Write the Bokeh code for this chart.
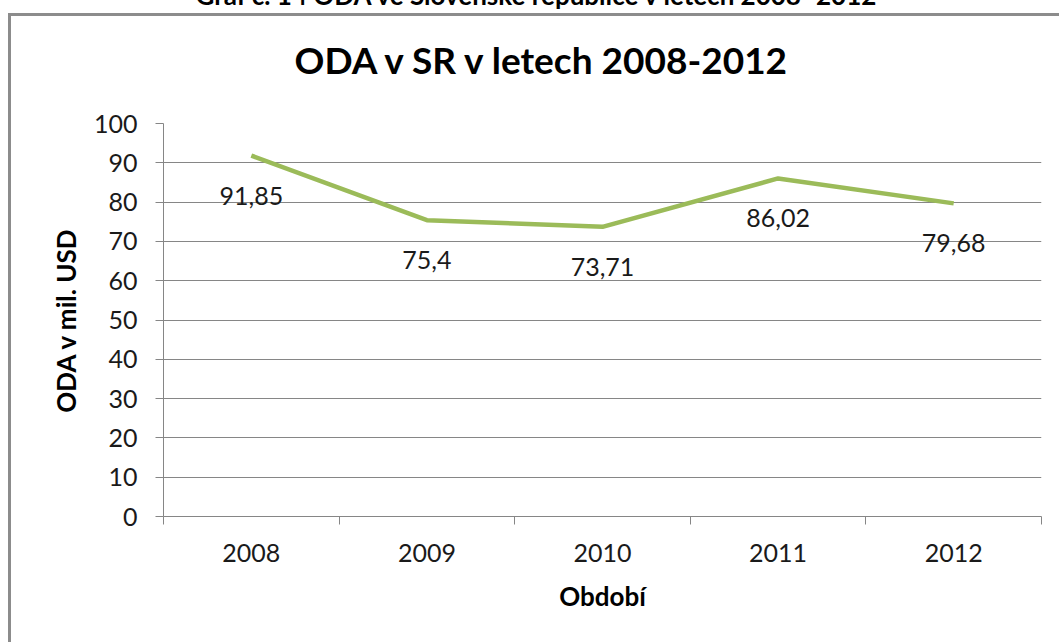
from bokeh.plotting import figure
from bokeh.models import Range1d, FixedTicker, Title, ColumnDataSource
from bokeh.core.properties import value
from bokeh.embed import file_html
from bokeh.resources import INLINE

years = ["2008", "2009", "2010", "2011", "2012"]
oda = [91.85, 75.4, 73.71, 86.02, 79.68]
oda_labels = ["91,85", "75,4", "73,71", "86,02", "79,68"]
y_ticks = [0, 10, 20, 30, 40, 50, 60, 70, 80, 90, 100]

header = "Graf č. 14 ODA ve Slovenské republice v letech 2008–2012"
chart_title = "ODA v SR v letech 2008-2012"
x_title = "Období"
y_title = "ODA v mil. USD"

FONT = "Lato"
GRID = "#868686"
FRAME = "#8c8c8c"
SHIFT = 60  # part of the canvas hidden above the page top

xs = [i + 0.5 for i in range(len(years))]
src = ColumnDataSource(dict(x=xs, y=oda, lab=oda_labels))

p = figure(width=1059, height=642 + SHIFT, output_backend="svg", toolbar_location=None,
           title=None,
           x_range=Range1d(0, len(years)), y_range=Range1d(0, 100),
           min_border_left=163, min_border_right=18, min_border_top=123 + SHIFT,
           min_border_bottom=126)
top = 13 + SHIFT
p.styles = {
    "margin-top": f"-{SHIFT}px",
    "background-color": "white",
    "background-image": f"linear-gradient({FRAME},{FRAME}), linear-gradient({FRAME},{FRAME})",
    "background-size": "3px 100%, 100% 3px",
    "background-position": f"8px {top}px, 8px {top}px",
    "background-repeat": "no-repeat",
}
p.outline_line_color = None
p.background_fill_color = "white"
p.border_fill_color = None

# axes
p.xaxis.ticker = FixedTicker(ticks=xs, minor_ticks=list(range(len(years) + 1)))
p.xaxis.major_label_overrides = {x: y for x, y in zip(xs, years)}
p.xaxis.major_tick_out = 0
p.xaxis.major_tick_in = 0
p.xaxis.minor_tick_out = 8
p.xaxis.minor_tick_in = 0
p.xaxis.minor_tick_line_color = GRID
p.xaxis.axis_line_color = GRID
p.xaxis.major_label_standoff = 19
p.xaxis.axis_label = x_title
p.xaxis.axis_label_standoff = 15

p.yaxis.ticker = FixedTicker(ticks=y_ticks)
p.yaxis.major_tick_out = 8
p.yaxis.major_tick_in = 0
p.yaxis.major_tick_line_color = GRID
p.yaxis.minor_tick_line_color = None
p.yaxis.axis_line_color = GRID
p.yaxis.major_label_standoff = 18
p.yaxis.axis_label = y_title
p.yaxis.axis_label_standoff = 9

for ax in (p.xaxis[0], p.yaxis[0]):
    ax.major_label_text_font = FONT
    ax.major_label_text_font_size = "25px"
    ax.major_label_text_color = "#1a1a1a"
    ax.axis_label_text_font = FONT
    ax.axis_label_text_font_size = "26px"
    ax.axis_label_text_font_style = "bold"
    ax.axis_label_text_color = "#000000"

p.xgrid.grid_line_color = None
p.ygrid.grid_line_color = GRID
p.ygrid.grid_line_width = 1

# data line and value labels
p.line("x", "y", source=src, line_color="#9BBB59", line_width=4.5, line_join="round")
p.text("x", "y", text="lab", source=src, text_font=value(FONT), text_font_size="25px",
       text_color="#1a1a1a", text_align="center", text_baseline="middle", y_offset=40)

# titles (first added sits nearest the plot)
p.add_layout(Title(text=chart_title, align="left", text_font=FONT, text_font_size="37px",
                   text_font_style="bold", text_color="#000000", standoff=84, offset=131), "above")
p.add_layout(Title(text=header, align="left", text_font=FONT, text_font_size="26px",
                   text_font_style="bold", text_color="#000000", standoff=-36, offset=32), "above")

open("out.html", "w").write(file_html(p, INLINE))
